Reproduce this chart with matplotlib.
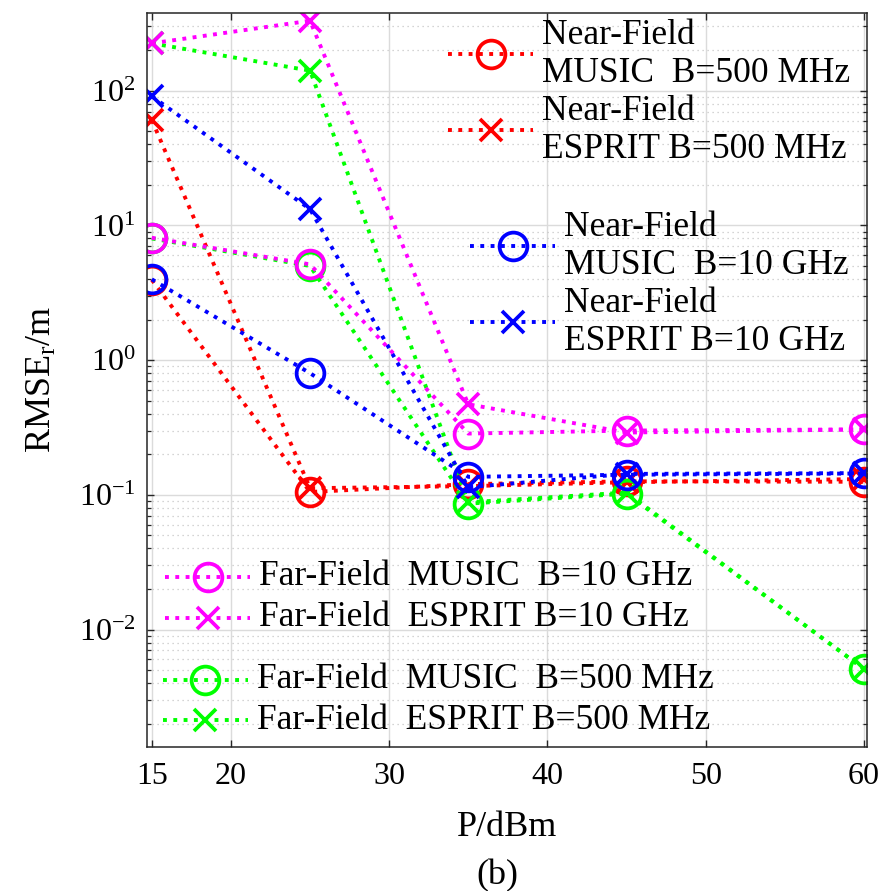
import numpy as np
import matplotlib
matplotlib.use('Agg')
import matplotlib.pyplot as plt
from matplotlib.legend import Legend
from matplotlib.offsetbox import HPacker
from matplotlib.ticker import FixedLocator, FuncFormatter, LogLocator, NullFormatter

plt.rcParams['font.family'] = ['Liberation Serif', 'DejaVu Serif']
plt.rcParams['mathtext.fontset'] = 'custom'
plt.rcParams['mathtext.rm'] = 'Liberation Serif'
plt.rcParams['mathtext.it'] = 'Liberation Serif:italic'

# 数据
power = [15, 25, 35, 45, 60]
nf_music_500m = [3.95, 0.105, 0.120, 0.126, 0.125]
nf_esprit_500m = [60.6, 0.112, 0.116, 0.124, 0.131]
ff_music_500m = [8.0, 5.0, 0.086, 0.102, 0.0051]
ff_esprit_500m = [225, 141, 0.088, 0.104, 0.0051]
nf_music_10g = [3.98, 0.80, 0.136, 0.141, 0.144]
nf_esprit_10g = [91.0, 13.2, 0.114, 0.143, 0.145]
ff_music_10g = [8.1, 5.14, 0.285, 0.300, 0.306]
ff_esprit_10g = [225, 331, 0.470, 0.290, 0.306]

labels_nf_500m = ['Near-Field\nMUSIC  B=500 MHz', 'Near-Field\nESPRIT B=500 MHz']
labels_nf_10g = ['Near-Field\nMUSIC  B=10 GHz', 'Near-Field\nESPRIT B=10 GHz']
labels_ff_10g = ['Far-Field  MUSIC  B=10 GHz', 'Far-Field  ESPRIT B=10 GHz']
labels_ff_500m = ['Far-Field  MUSIC  B=500 MHz', 'Far-Field  ESPRIT B=500 MHz']

x_ticks = [15, 20, 30, 40, 50, 60]
y_ticks = [1e-2, 1e-1, 1e0, 1e1, 1e2]

RED, GREEN, BLUE, MAGENTA = (1, 0, 0), (0, 1, 0), (0, 0, 1), (1, 0, 1)

fig = plt.figure(figsize=(8.84, 8.91), dpi=100)
ax = fig.add_axes([0.1660, 0.1620, 0.8148, 0.8238])


def draw(y, color, marker):
    ms = 20 if marker == 'o' else 15.5
    line, = ax.plot(power, y, linestyle=':', color=color, lw=2.8,
                    marker=marker, ms=ms, mew=2.7, mfc='none', mec=color)
    return line


# 画线顺序: 红, 绿, 蓝, 品红
h_nf_music_500m = draw(nf_music_500m, RED, 'o')
h_nf_esprit_500m = draw(nf_esprit_500m, RED, 'x')
h_ff_music_500m = draw(ff_music_500m, GREEN, 'o')
h_ff_esprit_500m = draw(ff_esprit_500m, GREEN, 'x')
h_nf_music_10g = draw(nf_music_10g, BLUE, 'o')
h_nf_esprit_10g = draw(nf_esprit_10g, BLUE, 'x')
h_ff_music_10g = draw(ff_music_10g, MAGENTA, 'o')
h_ff_esprit_10g = draw(ff_esprit_10g, MAGENTA, 'x')

ax.set_yscale('log')
ax.set_xlim(14.68, 60.2)
ax.set_ylim(1.35e-3, 380)
ax.xaxis.set_major_locator(FixedLocator(x_ticks))
ax.yaxis.set_major_locator(FixedLocator(y_ticks))
ax.yaxis.set_minor_locator(LogLocator(base=10, subs=np.arange(2, 10)))
ax.yaxis.set_minor_formatter(NullFormatter())
ax.yaxis.set_major_formatter(
    FuncFormatter(lambda v, p: r'$\mathdefault{10^{%d}}$' % round(np.log10(v))))

ax.set_axisbelow(True)
ax.grid(True, which='major', color=(0.86, 0.86, 0.86), lw=1.0, ls='-')
ax.grid(True, which='minor', axis='y', color=(0.78, 0.78, 0.78), lw=0.9, ls=(0, (1, 3)))

ax.tick_params(which='both', direction='in', top=True, right=True,
               color=(0.15, 0.15, 0.15), labelsize=23)
ax.tick_params(which='major', length=5, width=1.0)
ax.tick_params(which='minor', length=3, width=0.9)
ax.tick_params(axis='x', pad=11)
ax.tick_params(axis='y', pad=8)
for s in ax.spines.values():
    s.set_color((0.15, 0.15, 0.15))
    s.set_linewidth(1.1)

ax.set_xlabel('P/dBm', fontsize=26)
ax.xaxis.set_label_coords(0.5, -0.088)
ax.set_ylabel(r'RMSE$_{\mathrm{r}}$/m', fontsize=26)
ax.yaxis.set_label_coords(-0.122, 0.5)
fig.text(497 / 884, 0.0168, '(b)', ha='center', va='center', fontsize=26)


def add_legend(handles, labels, anchor, spacing):
    leg = Legend(ax, handles, labels, loc='center left', bbox_to_anchor=anchor,
                 frameon=False, fontsize=25.5, handlelength=2.4,
                 handletextpad=0.25, labelspacing=spacing, borderpad=0,
                 borderaxespad=0)
    for box in leg.findobj(HPacker):
        box.align = 'center'
    ax.add_artist(leg)


add_legend([h_nf_music_500m, h_nf_esprit_500m], labels_nf_500m, (0.4184, 0.8913), 0.14)
add_legend([h_nf_music_10g, h_nf_esprit_10g], labels_nf_10g, (0.4488, 0.630), 0.14)
add_legend([h_ff_music_10g, h_ff_esprit_10g], labels_ff_10g, (0.0254, 0.2037), 0.22)
add_legend([h_ff_music_500m, h_ff_esprit_500m], labels_ff_500m, (0.0222, 0.0636), 0.22)

fig.savefig('out.png', dpi=100, facecolor='white')
